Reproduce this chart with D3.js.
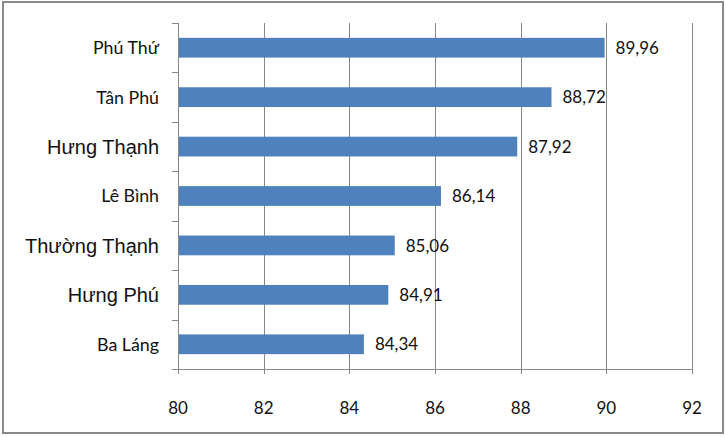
<!DOCTYPE html>
<html>
<head>
<meta charset="utf-8">
<script src="https://cdnjs.cloudflare.com/ajax/libs/d3/7.8.5/d3.min.js"></script>
<style>
  html, body { margin: 0; padding: 0; background: #fff; }
  svg { display: block; }
</style>
</head>
<body>
<svg id="chart" width="726" height="437"></svg>
<script>
const categories = ["Phú Thứ", "Tân Phú", "Hưng Thạnh", "Lê Bình", "Thường Thạnh", "Hưng Phú", "Ba Láng"];
const values = [89.96, 88.72, 87.92, 86.14, 85.06, 84.91, 84.34];
const valueLabels = ["89,96", "88,72", "87,92", "86,14", "85,06", "84,91", "84,34"];
const largeLabels = ["Hưng Thạnh", "Thường Thạnh", "Hưng Phú"];
const xTicks = [80, 82, 84, 86, 88, 90, 92];

(function () {
const svg = d3.select("#chart");
const pLeft = 178, pRight = 692, pTop = 23, pBottom = 369;
const gridColor = "#878787";
const numFont = "Lato, 'Open Sans', sans-serif";

// frame
svg.append("rect").attr("x", 3).attr("y", 2).attr("width", 720).attr("height", 431)
  .attr("fill", "#fff").attr("stroke", "#8a8a8a").attr("stroke-width", 2);

const x = d3.scaleLinear().domain([80, 92]).range([pLeft, pRight]);
const y = d3.scaleBand().domain(categories).range([pTop, pBottom]).paddingInner(0.6).paddingOuter(0.3);

// vertical gridlines
svg.append("g").selectAll("line").data(xTicks.slice(1)).join("line")
  .attr("x1", d => Math.round(x(d)) + 0.5).attr("x2", d => Math.round(x(d)) + 0.5)
  .attr("y1", pTop).attr("y2", pBottom + 5)
  .attr("stroke", gridColor).attr("stroke-width", 1);

// bars
svg.append("g").selectAll("rect").data(values).join("rect")
  .attr("x", x(80))
  .attr("y", (d, i) => y(categories[i]))
  .attr("width", d => x(d) - x(80))
  .attr("height", y.bandwidth())
  .attr("fill", "#4f81bd");

// value labels
svg.append("g").selectAll("text").data(values).join("text")
  .attr("x", d => x(d) + 11)
  .attr("y", (d, i) => y(categories[i]) + y.bandwidth() / 2)
  .attr("dy", "0.36em")
  .attr("font-family", numFont).attr("font-size", 17).attr("fill", "#111")
  .text((d, i) => valueLabels[i]);

// y axis line & category ticks
svg.append("line").attr("x1", pLeft + 0.5).attr("x2", pLeft + 0.5).attr("y1", pTop).attr("y2", pBottom + 5)
  .attr("stroke", gridColor);
svg.append("g").selectAll("line").data(d3.range(categories.length + 1)).join("line")
  .attr("x1", pLeft - 6).attr("x2", pLeft)
  .attr("y1", i => Math.round(pTop + i * (pBottom - pTop) / categories.length) + 0.5)
  .attr("y2", i => Math.round(pTop + i * (pBottom - pTop) / categories.length) + 0.5)
  .attr("stroke", gridColor);

// x axis line
svg.append("line").attr("x1", pLeft).attr("x2", pRight + 1).attr("y1", pBottom + 0.5).attr("y2", pBottom + 0.5)
  .attr("stroke", gridColor);

// x tick labels
svg.append("g").selectAll("text").data(xTicks).join("text")
  .attr("x", d => x(d)).attr("y", 408).attr("dy", "0.36em")
  .attr("text-anchor", "middle")
  .attr("font-family", numFont).attr("font-size", 17).attr("fill", "#111")
  .text(d => d);

// category labels
svg.append("g").selectAll("text").data(categories).join("text")
  .attr("x", 159)
  .attr("y", d => y(d) + y.bandwidth() / 2)
  .attr("dy", "0.36em")
  .attr("text-anchor", "end")
  .attr("font-family", d => largeLabels.includes(d) ? "'Liberation Sans', Arial, sans-serif" : numFont)
  .attr("font-size", d => largeLabels.includes(d) ? 20 : 17.8)
  .attr("fill", "#111")
  .text(d => d);
})();
</script>
</body>
</html>
